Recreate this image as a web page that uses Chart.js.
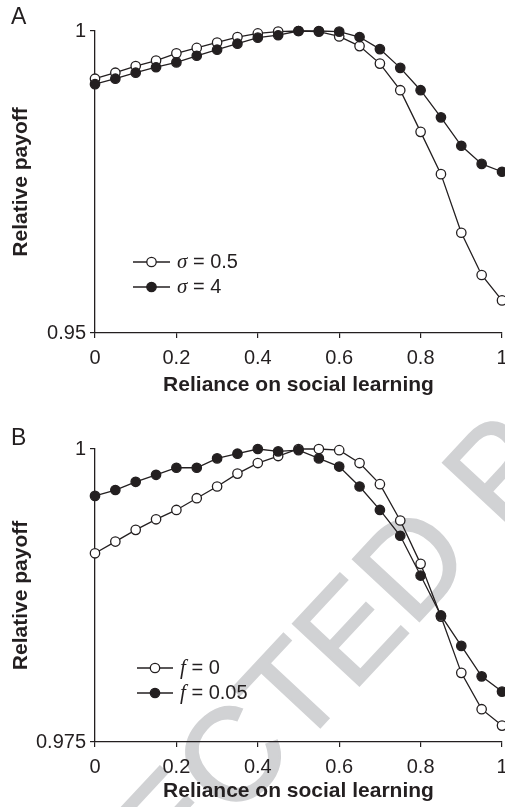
<!DOCTYPE html>
<html>
<head>
    <meta charset="UTF-8" />
    <title>Relative payoff vs reliance on social learning</title>
    <script src="https://cdn.jsdelivr.net/npm/chart.js"></script>
    <style>
        body { margin: 0; background: #fff; overflow: hidden; width: 505px; height: 807px; position: relative; }
        canvas { position: absolute; left: 0; }
        #chartA { top: 0; }
        #chartB { top: 405px; }
        .panel { position: absolute; left: 11px; font: 23px "Liberation Sans", Arial, sans-serif; color: #231f20; }
    </style>
</head>
<body>
    <canvas id="chartA" width="520" height="405"></canvas>
    <canvas id="chartB" width="520" height="402"></canvas>
    <div class="panel" style="top:3px;">A</div>
    <div class="panel" style="top:424px;">B</div>

    <script>
        // reliance on social learning (x)
        const xs = [0, 0.05, 0.1, 0.15, 0.2, 0.25, 0.3, 0.35, 0.4, 0.45, 0.5,
                    0.55, 0.6, 0.65, 0.7, 0.75, 0.8, 0.85, 0.9, 0.95, 1];
        const xTicks = [0, 0.2, 0.4, 0.6, 0.8, 1];

        // panel A
        const sigma05 = [0.9921, 0.9931, 0.9942, 0.9951, 0.9963, 0.9972, 0.9981, 0.9990, 0.9996, 0.9999, 1.0,
                         0.9999, 0.9991, 0.9975, 0.9946, 0.9902, 0.9833, 0.9763, 0.9666, 0.9596, 0.9554];
        const sigma4  = [0.9912, 0.9921, 0.9931, 0.9940, 0.9948, 0.9959, 0.9969, 0.9979, 0.9989, 0.9993, 1.0,
                         1.0, 0.9999, 0.9990, 0.9970, 0.9939, 0.9902, 0.9857, 0.9810, 0.9780, 0.9767];
        const yTicksA = [0.95, 1];

        // panel B
        const f0   = [0.9911, 0.9921, 0.9931, 0.9940, 0.9948, 0.9958, 0.9968, 0.9979, 0.9988, 0.9994, 1.0,
                      1.0, 0.9999, 0.9988, 0.9970, 0.9939, 0.9902, 0.9857, 0.9809, 0.9778, 0.9764];
        const f005 = [0.9960, 0.9965, 0.9972, 0.9978, 0.9984, 0.9984, 0.9992, 0.9996, 1.0, 0.9998, 0.9999,
                      0.9992, 0.9985, 0.9968, 0.9948, 0.9926, 0.9892, 0.9858, 0.9832, 0.9806, 0.9793];
        const yTicksB = [0.975, 1];

        const INK = '#231f20';
        Chart.defaults.font.family = '"Liberation Sans", Arial, sans-serif';
        Chart.defaults.color = INK;

        function series(values, filled, order) {
            return {
                data: xs.map((x, i) => ({ x: x, y: values[i] })),
                borderColor: INK,
                borderWidth: 1.3,
                pointRadius: 4.7,
                pointBorderWidth: 1.3,
                pointBorderColor: INK,
                pointBackgroundColor: filled ? INK : '#fff',
                pointHoverRadius: 4.7,
                tension: 0,
                clip: false,
                order: order
            };
        }

        // legend drawn inside the plot area, lower left
        const insideLegend = {
            id: 'insideLegend',
            afterDraw(chart, args, opts) {
                const ctx = chart.ctx;
                const a = chart.chartArea;
                ctx.save();
                opts.items.forEach((item, i) => {
                    const y = a.bottom - opts.fromBottom + i * opts.rowGap;
                    ctx.strokeStyle = INK;
                    ctx.lineWidth = 1.3;
                    ctx.beginPath();
                    ctx.moveTo(a.left + opts.lineFrom, y);
                    ctx.lineTo(a.left + opts.lineTo, y);
                    ctx.stroke();
                    ctx.beginPath();
                    ctx.arc(a.left + (opts.lineFrom + opts.lineTo) / 2, y, 4.7, 0, Math.PI * 2);
                    ctx.fillStyle = item.filled ? INK : '#fff';
                    ctx.fill();
                    ctx.stroke();
                    ctx.fillStyle = INK;
                    ctx.textBaseline = 'middle';
                    ctx.textAlign = 'left';
                    let tx = a.left + opts.textAt;
                    ctx.font = 'italic 21px "Liberation Serif", serif';
                    ctx.fillText(item.sym, tx, y);
                    tx += ctx.measureText(item.sym).width;
                    ctx.font = '20px "Liberation Sans", Arial, sans-serif';
                    ctx.fillText(item.rest, tx, y);
                });
                ctx.restore();
            }
        };

        // light grey proof stamp across panel B
        const proofStamp = {
            id: 'proofStamp',
            beforeDraw(chart, args, opts) {
                if (!opts.text) return;
                const ctx = chart.ctx;
                ctx.save();
                ctx.font = opts.size + 'px "Liberation Sans", Arial, sans-serif';
                ctx.fillStyle = '#d1d2d4';
                ctx.strokeStyle = '#d1d2d4';
                ctx.lineWidth = 2;
                ctx.textBaseline = 'alphabetic';
                ctx.translate(opts.x, opts.y);
                ctx.rotate(opts.angle * Math.PI / 180);
                const w = ctx.measureText(opts.text.slice(0, opts.anchor)).width;
                ctx.fillText(opts.text, -w, 0);
                ctx.strokeText(opts.text, -w, 0);
                ctx.restore();
            }
        };

        function makeChart(id, datasets, yTicks, cfg) {
            return new Chart(document.getElementById(id), {
                type: 'line',
                data: { datasets: datasets },
                plugins: [proofStamp, insideLegend],
                options: {
                    responsive: false,
                    animation: false,
                    devicePixelRatio: 1,
                    layout: { padding: { top: cfg.top, right: 18, left: 0, bottom: 0 } },
                    plugins: {
                        legend: { display: false },
                        tooltip: { enabled: false },
                        insideLegend: cfg.legend,
                        proofStamp: cfg.stamp || {}
                    },
                    scales: {
                        x: {
                            type: 'linear',
                            min: 0,
                            max: 1,
                            afterBuildTicks: s => { s.ticks = xTicks.map(v => ({ value: v })); },
                            afterFit: s => { s.height = cfg.xHeight; },
                            ticks: { font: { size: 20 }, padding: 8, color: INK, callback: v => String(v) },
                            grid: { drawOnChartArea: false, tickLength: 5, color: INK, lineWidth: 1.2 },
                            border: { color: INK, width: 1.3 },
                            title: {
                                display: true,
                                text: 'Reliance on social learning',
                                font: { size: 21, weight: 'bold' },
                                color: INK,
                                padding: { top: cfg.xTitlePad, bottom: cfg.xTitlePad }
                            }
                        },
                        y: {
                            min: yTicks[0],
                            max: yTicks[yTicks.length - 1],
                            afterBuildTicks: s => { s.ticks = yTicks.map(v => ({ value: v })); },
                            afterFit: s => { s.width = 95; },
                            ticks: { font: { size: 20 }, padding: 4, color: INK, callback: v => String(v) },
                            grid: { drawOnChartArea: false, tickLength: 5, color: INK, lineWidth: 1.2 },
                            border: { color: INK, width: 1.3 },
                            title: {
                                display: true,
                                text: 'Relative payoff',
                                font: { size: 21, weight: 'bold' },
                                color: INK,
                                padding: { top: 9, bottom: 9 }
                            }
                        }
                    }
                }
            });
        }

        makeChart('chartA', [series(sigma05, false, 2), series(sigma4, true, 1)], yTicksA, {
            top: 31,
            xHeight: 72,
            xTitlePad: 7,
            legend: {
                fromBottom: 71, rowGap: 25, lineFrom: 38, lineTo: 75, textAt: 82,
                items: [
                    { sym: 'σ', rest: ' = 0.5', filled: false },
                    { sym: 'σ', rest: ' = 4', filled: true }
                ]
            }
        });

        makeChart('chartB', [series(f0, false, 2), series(f005, true, 1)], yTicksB, {
            top: 44,
            xHeight: 65,
            xTitlePad: 3,
            legend: {
                fromBottom: 74, rowGap: 25, lineFrom: 42, lineTo: 78, textAt: 85,
                items: [
                    { sym: 'f', rest: ' = 0', filled: false },
                    { sym: 'f', rest: ' = 0.05', filled: true }
                ]
            },
            stamp: { text: 'UNCORRECTED PROOF', anchor: 10, size: 132, angle: -47, x: 412, y: 224 }
        });
    </script>
</body>
</html>
